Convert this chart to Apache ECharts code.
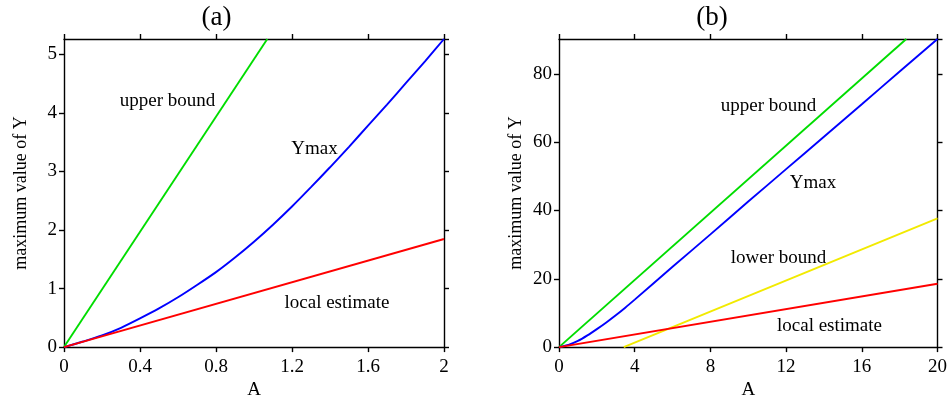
<!DOCTYPE html>
<html>
<head>
<meta charset="utf-8">
<script src="https://cdn.jsdelivr.net/npm/echarts@6/dist/echarts.min.js"></script>
<style>html,body{margin:0;padding:0;background:#fff}#c{width:950px;height:405px}</style>
</head>
<body>
<div id="c"></div>
<script>
// Panel (a)
const aA = [0,0.1,0.2,0.3,0.4,0.5,0.6,0.7,0.8,0.9,1.0,1.1,1.2,1.3,1.4,1.5,1.6,1.7,1.8,1.9,2.0];
const aYmax = [0,0.095,0.20,0.33,0.49,0.66,0.85,1.06,1.28,1.53,1.80,2.09,2.40,2.73,3.07,3.42,3.78,4.14,4.51,4.88,5.26];
const aUpperA = [0, 1.07];
const aUpper = [0, 5.26];
const aLocalA = [0, 2];
const aLocal = [0, 1.846];
const aYMaxAxis = 5.26;
// Panel (b)
const bA = [0,0.5,1,1.5,2,2.5,3,3.5,4,6,8,10,12,14,16,18,20];
const bYmax = [0,0.66,1.80,3.42,5.26,7.21,9.31,11.54,13.9,23.5,33.0,42.6,52.1,61.6,71.1,80.7,90.2];
const bUpperA = [0, 18.35];
const bUpper = [0, 90.2];
const bLowerA = [3.42, 20];
const bLower = [0, 37.7];
const bLocalA = [0, 20];
const bLocal = [0, 18.55];
const bYMaxAxis = 90.2;
// Tick settings
const aXTicks = {min:0, max:2, interval:0.4};
const aYTicks = {min:0, max:aYMaxAxis, interval:1};
const bXTicks = {min:0, max:20, interval:4};
const bYTicks = {min:0, max:bYMaxAxis, interval:20};

const zip = (xs, ys) => xs.map((x,i)=>[x, ys[i]]);
const FONT = 'Liberation Serif';
const lineSt = {color:'#000', width:1.4};

function xAx(grid, t, main){
  return {
    type:'value', gridIndex:grid, min:t.min, max:t.max, interval:t.interval,
    position: main ? 'bottom' : 'top',
    name: main ? 'A' : '', nameLocation:'middle', nameGap:32,
    nameTextStyle:{fontFamily:FONT, fontSize:19, color:'#000'},
    axisLine:{show:true, onZero:false, lineStyle:lineSt},
    axisTick:{show:true, inside:false, length:5, lineStyle:lineSt},
    axisLabel:{show:main, fontFamily:FONT, fontSize:19, color:'#000', margin:10},
    splitLine:{show:false}
  };
}
function yAx(grid, t, main){
  return {
    type:'value', gridIndex:grid, min:t.min, max:t.max, interval:t.interval,
    position: main ? 'left' : 'right',
    name: main ? 'maximum value of Y' : '', nameLocation:'middle', nameGap:34,
    nameTextStyle:{fontFamily:FONT, fontSize:18, color:'#000'},
    axisLine:{show:true, onZero:false, lineStyle:lineSt},
    axisTick:{show:true, inside:false, length:5, lineStyle:lineSt},
    axisLabel:{show:main, fontFamily:FONT, fontSize:19, color:'#000', margin:7, showMaxLabel:false},
    splitLine:{show:false}
  };
}
function ser(x, y, data, color, smooth){
  return {type:'line', xAxisIndex:x, yAxisIndex:y, data:data, showSymbol:false, symbol:'none',
    smooth:smooth||false, lineStyle:{color:color, width:1.9}, silent:true, animation:false, clip:true};
}
const GREEN='#00dd00', BLUE='#0000ff', RED='#ff0000', YELLOW='#f2ea00';
function txt(x, y, s, size){
  return {type:'text', x:x, y:y, style:{text:s, fontFamily:FONT, fontSize:size||19, fill:'#000', align:'center', verticalAlign:'middle'}};
}

const chart = echarts.init(document.getElementById('c'));
chart.setOption({
  animation:false,
  backgroundColor:'#fff',
  grid:[
    {left:64, top:39, width:380, height:311},
    {left:559, top:39, width:380, height:311}
  ],
  xAxis:[xAx(0,aXTicks,true), xAx(0,aXTicks,false), xAx(1,bXTicks,true), xAx(1,bXTicks,false)],
  yAxis:[yAx(0,aYTicks,true), yAx(0,aYTicks,false), yAx(1,bYTicks,true), yAx(1,bYTicks,false)],
  series:[
    ser(0,0, zip(aUpperA,aUpper), GREEN),
    ser(0,0, zip(aA,aYmax), BLUE, 0.2),
    ser(0,0, zip(aLocalA,aLocal), RED),
    ser(2,2, zip(bUpperA,bUpper), GREEN),
    ser(2,2, zip(bA,bYmax), BLUE, 0.2),
    ser(2,2, zip(bLowerA,bLower), YELLOW),
    ser(2,2, zip(bLocalA,bLocal), RED)
  ],
  graphic:[
    txt(216.5, 18, '(a)', 27),
    txt(712, 18, '(b)', 27),
    txt(167.5, 101, 'upper bound'),
    txt(314.5, 149, 'Ymax'),
    txt(337, 303, 'local estimate'),
    txt(768.5, 106, 'upper bound'),
    txt(813, 183, 'Ymax'),
    txt(778.5, 258, 'lower bound'),
    txt(829.5, 326, 'local estimate')
  ]
});
</script>
</body>
</html>
